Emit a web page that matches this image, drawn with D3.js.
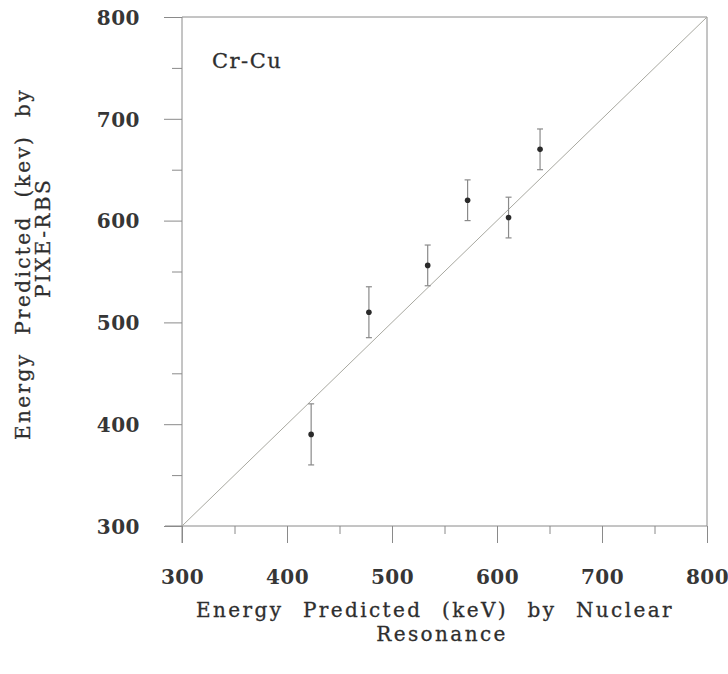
<!DOCTYPE html>
<html>
<head>
<meta charset="utf-8">
<script src="https://cdn.jsdelivr.net/npm/d3@7"></script>
<style>
  body { margin: 0; background: #fff; }
  svg { display: block; }
</style>
</head>
<body>
<div id="chart"></div>
<script>
// nuclear resonance energy (x), PIXE-RBS energy (y), error on y
var xVals = [423, 478, 534, 572, 611, 641];
var yVals = [390, 510, 556, 620, 603, 670];
var yErr  = [30, 25, 20, 20, 20, 20];
var majorTicks = [300, 400, 500, 600, 700, 800];
var minorTicks = [350, 450, 550, 650, 750];
var sampleLabel = "Cr-Cu";

var W = 728, H = 674;
var svg = d3.select("#chart").append("svg")
    .attr("width", W)
    .attr("height", H);

var xScale = d3.scaleLinear().domain([300, 800]).range([182, 707]);
var yScale = d3.scaleLinear().domain([300, 800]).range([526, 17]);

var axisColor = "#8a8a8a";
var fontFam = "'DejaVu Serif', 'Liberation Serif', serif";
var textColor = "#2e2e2e";

// axes built by d3, then restyled
var xAxis = d3.axisBottom(xScale).tickValues(majorTicks).tickSize(17).tickSizeOuter(0).tickPadding(27);
var yAxis = d3.axisLeft(yScale).tickValues(majorTicks).tickSize(18).tickSizeOuter(0).tickPadding(24);

var gx = svg.append("g").attr("transform", "translate(0," + yScale(300) + ")").call(xAxis);
var gy = svg.append("g").attr("transform", "translate(" + xScale(300) + ",0)").call(yAxis);

svg.append("g").attr("transform", "translate(0," + yScale(300) + ")")
    .call(d3.axisBottom(xScale).tickValues(minorTicks).tickSize(8).tickSizeOuter(0).tickFormat(""));
svg.append("g").attr("transform", "translate(" + xScale(300) + ",0)")
    .call(d3.axisLeft(yScale).tickValues(minorTicks).tickSize(10).tickSizeOuter(0).tickFormat(""));

svg.selectAll(".domain").remove();
svg.selectAll(".tick line").attr("stroke", axisColor).attr("stroke-width", 1);
svg.selectAll(".tick text")
    .attr("font-family", fontFam)
    .attr("font-weight", "bold")
    .attr("font-size", 20)
    .attr("letter-spacing", 0.5)
    .attr("fill", "#363636");
gy.selectAll(".tick text").attr("dy", "0.36em");

// axis lines extending past the corner, plus top and right frame
var frame = svg.append("g").attr("stroke", axisColor).attr("stroke-width", 1).attr("fill", "none");
frame.append("line")
    .attr("x1", xScale(300) - 17).attr("x2", xScale(800))
    .attr("y1", yScale(300)).attr("y2", yScale(300));
frame.append("line")
    .attr("x1", xScale(300)).attr("x2", xScale(300))
    .attr("y1", yScale(800)).attr("y2", yScale(300) + 17);
frame.append("line")
    .attr("x1", xScale(300)).attr("x2", xScale(800))
    .attr("y1", yScale(800)).attr("y2", yScale(800));
frame.append("line")
    .attr("x1", xScale(800)).attr("x2", xScale(800))
    .attr("y1", yScale(800)).attr("y2", yScale(300));

// 1:1 line
svg.append("line")
    .attr("x1", xScale(300)).attr("y1", yScale(300))
    .attr("x2", xScale(800)).attr("y2", yScale(800))
    .attr("stroke", "#a8a8a0")
    .attr("stroke-width", 1);

var pts = xVals.map(function(x, i) { return {x: x, y: yVals[i], e: yErr[i]}; });

var bars = svg.append("g").attr("stroke", "#8a8a8a").attr("stroke-width", 1.2);
bars.selectAll("line.v").data(pts).enter().append("line")
    .attr("class", "v")
    .attr("x1", function(d) { return xScale(d.x); })
    .attr("x2", function(d) { return xScale(d.x); })
    .attr("y1", function(d) { return yScale(d.y + d.e); })
    .attr("y2", function(d) { return yScale(d.y - d.e); });
bars.selectAll("line.top").data(pts).enter().append("line")
    .attr("x1", function(d) { return xScale(d.x) - 3; })
    .attr("x2", function(d) { return xScale(d.x) + 3; })
    .attr("y1", function(d) { return yScale(d.y + d.e); })
    .attr("y2", function(d) { return yScale(d.y + d.e); });
bars.selectAll("line.bot").data(pts).enter().append("line")
    .attr("x1", function(d) { return xScale(d.x) - 3; })
    .attr("x2", function(d) { return xScale(d.x) + 3; })
    .attr("y1", function(d) { return yScale(d.y - d.e); })
    .attr("y2", function(d) { return yScale(d.y - d.e); });

svg.append("g").selectAll("circle").data(pts).enter().append("circle")
    .attr("cx", function(d) { return xScale(d.x); })
    .attr("cy", function(d) { return yScale(d.y); })
    .attr("r", 2.8)
    .attr("fill", "#2a2a2a");

// sample label
svg.append("text")
    .attr("x", 212).attr("y", 68)
    .attr("font-family", fontFam)
    .attr("font-size", 21)
    .attr("letter-spacing", 1.5)
    .attr("fill", textColor)
    .attr("stroke", textColor).attr("stroke-width", 0.3)
    .text(sampleLabel);

// spread extra width across the word gaps, like the original typesetting
function fitWords(sel, width) {
    var natural = sel.node().getComputedTextLength();
    var gaps = sel.text().split(" ").length - 1;
    if (gaps > 0 && natural < width) sel.attr("word-spacing", (width - natural) / gaps);
}

var titleStyle = function(g) {
    g.attr("font-family", fontFam)
     .attr("font-size", 20)
     .attr("letter-spacing", 2.4)
     .attr("fill", textColor)
     .attr("stroke", textColor).attr("stroke-width", 0.3)
     .attr("text-anchor", "middle");
};

var xt = svg.append("g").call(titleStyle);
var xl1 = xt.append("text").attr("x", 435).attr("y", 617)
    .text("Energy Predicted (keV) by Nuclear");
fitWords(xl1, 478);
xt.append("text").attr("x", 442).attr("y", 641)
    .text("Resonance");

var yt = svg.append("g").call(titleStyle);
var yl1 = yt.append("text")
    .attr("transform", "translate(30,264) rotate(-90)")
    .text("Energy Predicted (kev) by");
fitWords(yl1, 352);
yt.append("text")
    .attr("transform", "translate(50,238) rotate(-90)")
    .text("PIXE-RBS");
</script>
</body>
</html>
